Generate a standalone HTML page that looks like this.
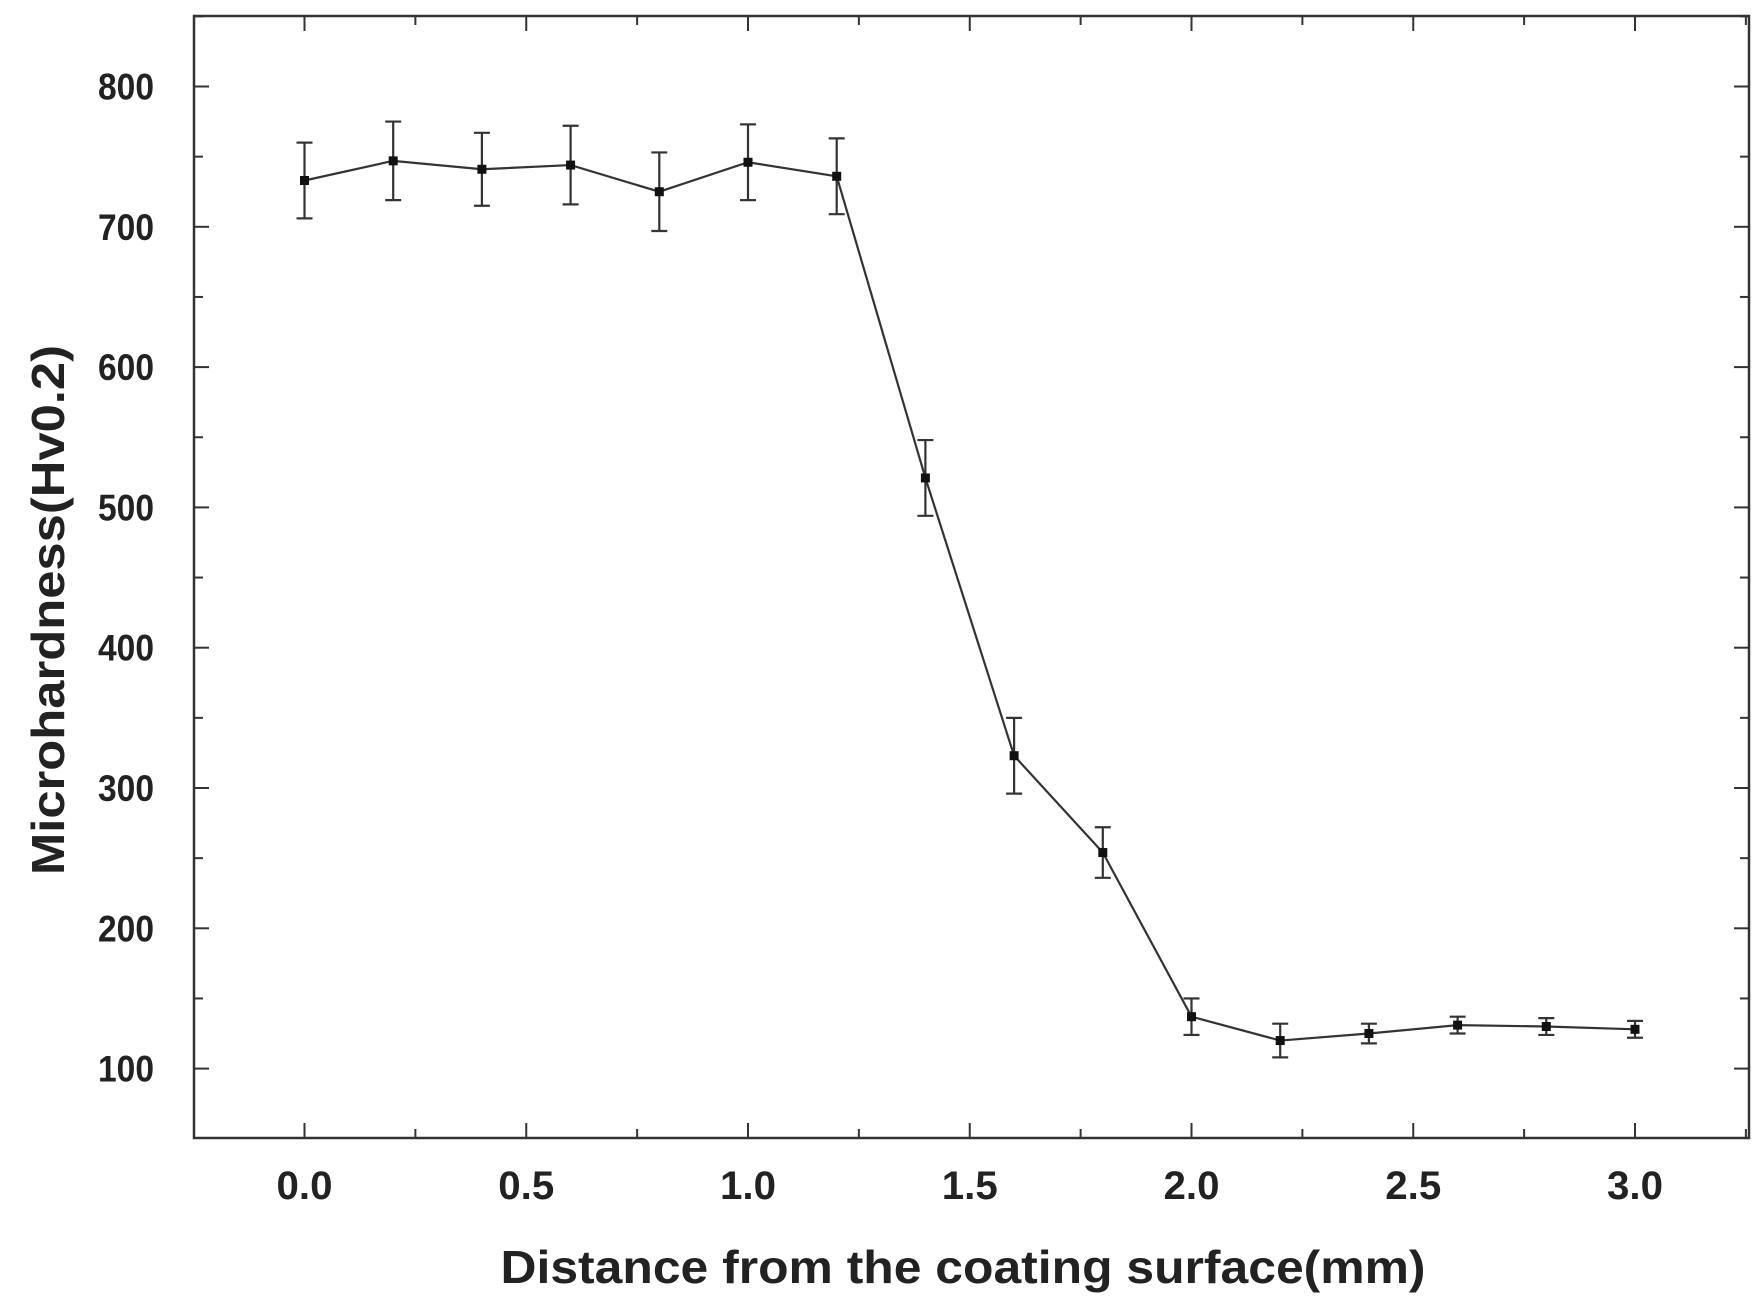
<!DOCTYPE html>
<html><head><meta charset="utf-8"><style>
html,body{margin:0;padding:0;background:#fff;}
svg{display:block;font-family:"Liberation Sans",Arial,sans-serif;font-weight:bold;}
</style></head><body>
<svg id="chart" width="1762" height="1315" viewBox="0 0 1762 1315"></svg>
<script>
const xValues=[0,0.2,0.4,0.6,0.8,1.0,1.2,1.4,1.6,1.8,2.0,2.2,2.4,2.6,2.8,3.0];
const yValues=[733,747,741,744,725,746,736,521,323,254,137,120,125,131,130,128];
const yErrors=[27,28,26,28,28,27,27,27,27,18,13,12,7,6,6,6];
const xTicks=[0,0.5,1.0,1.5,2.0,2.5,3.0];
const xTickLabels=["0.0","0.5","1.0","1.5","2.0","2.5","3.0"];
const yTicks=[100,200,300,400,500,600,700,800];
const yTickLabels=["100","200","300","400","500","600","700","800"];

const NS="http://www.w3.org/2000/svg";
const svg=document.getElementById('chart');
const L=194,R=1749,T=16,B=1138;
const X0=304.5,X3=1635,Y100=1068.6,Y800=86.5;
function sx(v){return X0+(v-0)*(X3-X0)/3;}
function sy(v){return Y100+(v-100)*(Y800-Y100)/700;}
function mk(tag,attrs,parent){const e=document.createElementNS(NS,tag);for(const k in attrs)e.setAttribute(k,attrs[k]);(parent||svg).appendChild(e);return e;}

const frame=mk('rect',{x:L,y:T,width:R-L,height:B-T,fill:'none',stroke:'#333',"stroke-width":2.5});



for(let v=-0.25;v<=3.26;v+=0.25){
  const major=Math.abs(v*2-Math.round(v*2))<1e-6;
  const len=major?15:9;const x=sx(v);
  if(x<L||x>R)continue;
  const t=mk('line',{x1:x,x2:x,y1:B,y2:B-len,stroke:'#333',"stroke-width":2});
  
  
  const t2=mk('line',{x1:x,x2:x,y1:T,y2:T+len,stroke:'#333',"stroke-width":2});
  
  
}
xTicks.forEach((v,i)=>{
  const tx=mk('text',{x:sx(v),y:1199,"text-anchor":"middle","font-size":40,fill:'#222',textLength:56,lengthAdjust:'spacingAndGlyphs'});
  tx.textContent=xTickLabels[i];
  
  
});
for(let v=50;v<=850;v+=50){
  const major=v%100===0;const len=major?15:9;const y=sy(v);
  if(y<T||y>B)continue;
  const t=mk('line',{x1:L,x2:L+len,y1:y,y2:y,stroke:'#333',"stroke-width":2});
  
  
  const t2=mk('line',{x1:R,x2:R-len,y1:y,y2:y,stroke:'#333',"stroke-width":2});
  
  
}
yTicks.forEach((v,i)=>{
  const tx=mk('text',{x:154,y:sy(v)+13,"text-anchor":"end","font-size":37,fill:'#222',textLength:56,lengthAdjust:'spacingAndGlyphs'});
  tx.textContent=yTickLabels[i];
  
  
});
const xt=mk('text',{x:963,y:1283,"text-anchor":"middle","font-size":46,fill:'#222',textLength:925,lengthAdjust:'spacingAndGlyphs'});
xt.textContent='Distance from the coating surface(mm)';


const yt=mk('text',{x:0,y:0,"text-anchor":"middle","font-size":46,fill:'#222',textLength:530,lengthAdjust:'spacingAndGlyphs',transform:'translate(64,610) rotate(-90)'});
yt.textContent='Microhardness(Hv0.2)';



const pts=xValues.map((v,i)=>sx(v)+','+sy(yValues[i])).join(' ');
const pl=mk('polyline',{points:pts,fill:'none',stroke:'#333',"stroke-width":2.2});


xValues.forEach((v,i)=>{
  const g=mk('g',{});
  
  
  const x=sx(v),y1=sy(yValues[i]+yErrors[i]),y2=sy(yValues[i]-yErrors[i]);
  mk('line',{x1:x,x2:x,y1:y1,y2:y2,stroke:'#333',"stroke-width":2.2},g);
  mk('line',{x1:x-8,x2:x+8,y1:y1,y2:y1,stroke:'#333',"stroke-width":2.2},g);
  mk('line',{x1:x-8,x2:x+8,y1:y2,y2:y2,stroke:'#333',"stroke-width":2.2},g);
  mk('rect',{x:x-4.5,y:sy(yValues[i])-4.5,width:9,height:9,fill:'#111'},g);
});
</script>
</body></html>
